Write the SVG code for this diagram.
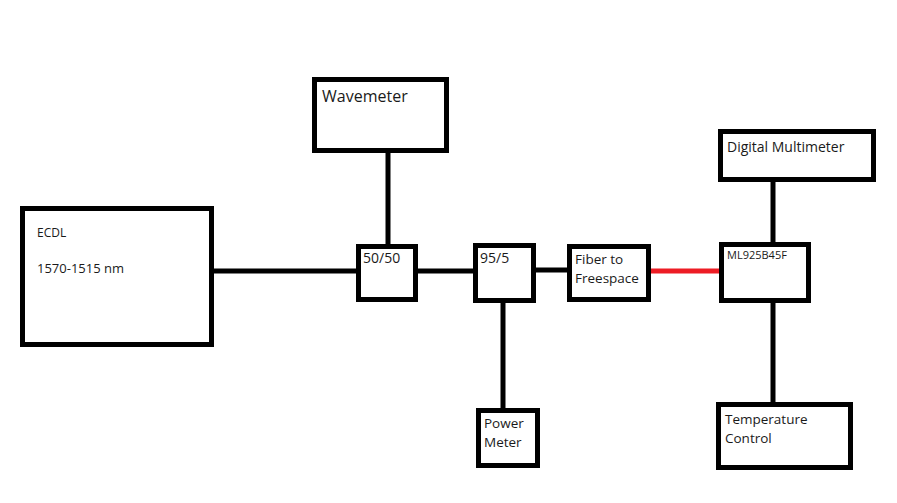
<svg xmlns="http://www.w3.org/2000/svg" width="897" height="503" viewBox="0 0 897 503">
<style>
.box{fill:#fff;stroke:#000;stroke-width:5}
.c{stroke:#000;stroke-width:5;fill:none}
.red{stroke:#ed1c24}
text{font-family:"Open Sans","Noto Sans","DejaVu Sans",sans-serif;fill:#1a1a1a}
</style>
<rect width="897" height="503" fill="#fff"/>
<g id="connectors">
<line class="c" x1="212" y1="271" x2="358" y2="271"/>
<line class="c" x1="388" y1="151" x2="388" y2="246"/>
<line class="c" x1="416" y1="271" x2="475" y2="271"/>
<line class="c" x1="534" y1="270" x2="569" y2="270"/>
<line class="c" x1="503" y1="301" x2="503" y2="410"/>
<line class="c red" x1="649" y1="271" x2="721" y2="271"/>
<line class="c" x1="773" y1="180" x2="773" y2="244"/>
<line class="c" x1="773" y1="300" x2="773" y2="404"/>
</g>
<g id="ecdl">
<rect class="box" x="22.5" y="208.5" width="189" height="136"/>
<text x="37" y="237" font-size="12">ECDL</text>
<text x="37" y="273" font-size="13">1570-1515 nm</text>
</g>
<g id="wavemeter">
<rect class="box" x="314.5" y="79.5" width="132" height="71"/>
<text x="322" y="102" font-size="16">Wavemeter</text>
</g>
<g id="split5050">
<rect class="box" x="358.5" y="246.5" width="57" height="53"/>
<text x="363" y="263" font-size="14">50/50</text>
</g>
<g id="split955">
<rect class="box" x="475.5" y="245.5" width="58" height="55"/>
<text x="480" y="263" font-size="14">95/5</text>
</g>
<g id="fiber">
<rect class="box" x="569.5" y="246.5" width="79" height="53"/>
<text x="575" y="264" font-size="13.5">Fiber to</text>
<text x="575" y="283" font-size="13.5">Freespace</text>
</g>
<g id="ml925">
<rect class="box" x="721.5" y="244.5" width="87" height="56"/>
<text x="727" y="259" font-size="11">ML925B45F</text>
</g>
<g id="multimeter">
<rect class="box" x="720.5" y="131.5" width="153" height="48"/>
<text x="727" y="152" font-size="14">Digital Multimeter</text>
</g>
<g id="powermeter">
<rect class="box" x="478.5" y="410.5" width="59" height="55"/>
<text x="484" y="428" font-size="13.5">Power</text>
<text x="484" y="447" font-size="13.5">Meter</text>
</g>
<g id="tempcontrol">
<rect class="box" x="718.5" y="404.5" width="132" height="63"/>
<text x="725" y="424" font-size="13.5">Temperature</text>
<text x="725" y="443" font-size="13.5">Control</text>
</g>
</svg>
